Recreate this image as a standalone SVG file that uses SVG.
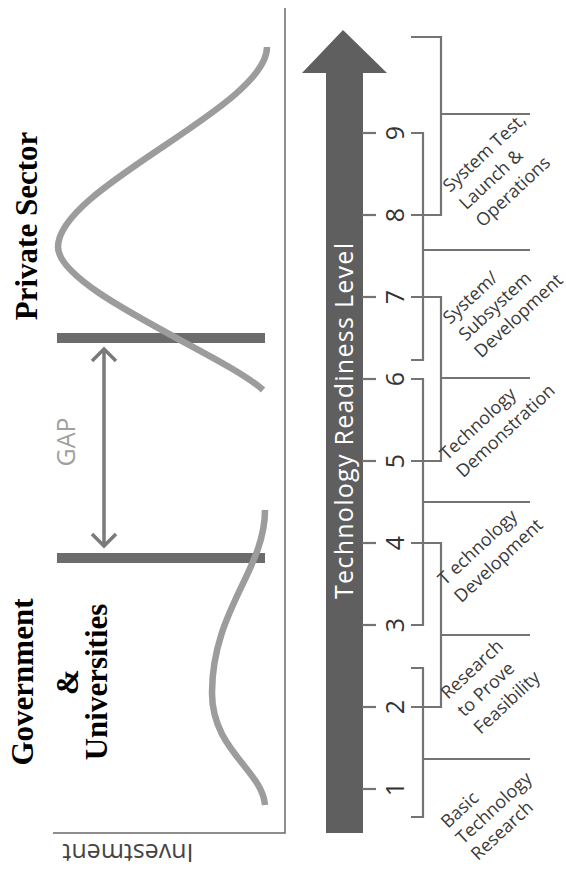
<svg xmlns="http://www.w3.org/2000/svg" width="566" height="870" viewBox="0 0 566 870">
<style>
.axis{stroke:#6a6a6a;stroke-width:1.5;fill:none}
.curve{stroke:#9c9c9c;stroke-width:6.5;fill:none;stroke-linecap:butt}
.bar{fill:#6c6c6c}
.gap{stroke:#7a7a7a;stroke-width:3.5;fill:none;stroke-linejoin:miter}
.br{stroke:#747474;stroke-width:2.2;fill:none}
.tick{stroke:#747474;stroke-width:2.2}
.num{font-family:"Open Sans",sans-serif;font-size:25px;fill:#333;text-anchor:middle}
.stage{font-family:"Open Sans",sans-serif;font-size:18px;fill:#3a3a3a}
.big{font-family:"Liberation Serif","Times New Roman",serif;font-weight:bold;font-size:31px;fill:#000;text-anchor:middle}
</style>
<rect width="566" height="870" fill="#fff"/>
<g id="axes">
<path class="axis" d="M285,8 V833 H53"/>
<text x="0" y="0" transform="translate(128,844) rotate(180)" font-family="Open Sans, sans-serif" font-size="25" fill="#444" text-anchor="middle">Investment</text>
</g>
<g id="bars">
<rect class="bar" x="57" y="333" width="208" height="10"/>
<rect class="bar" x="57" y="553" width="208" height="10"/>
</g>
<g id="curves">
<path class="curve" d="M267,47 C267,107 58,187 58,247 C58,290 225,355 263,390"/>
<path class="curve" d="M265,510 C265,570 212,610 212,693 C212,750 262,770 265,805"/>
</g>
<g id="gap">
<path class="gap" d="M104,349 V546 M92,361 L104,349 L116,361 M92,534 L104,546 L116,534"/>
<text transform="translate(75,442) rotate(-90)" font-family="Open Sans, sans-serif" font-size="25" fill="#a0a0a0" text-anchor="middle">GAP</text>
</g>
<g id="private-sector">
<text class="big" transform="translate(37,226) rotate(-90)">Private Sector</text>
</g>
<g id="government-universities">
<text class="big" transform="rotate(-90)"><tspan x="-682" y="33">Government</tspan><tspan x="-682" y="78">&amp;</tspan><tspan x="-682" y="107">Universities</tspan></text>
</g>
<g id="trl-arrow">
<polygon points="343,30 387,73 363,73 363,833 326,833 326,73 302,73" fill="#5f5f5f"/>
<text transform="translate(353,421) rotate(-90)" font-family="Open Sans, sans-serif" font-size="25" fill="#fff" text-anchor="middle" textLength="356" lengthAdjust="spacing">Technology Readiness Level</text>
</g>
<g id="levels">
<g class="tick">
<line x1="362" y1="789" x2="376" y2="789"/><line x1="362" y1="707" x2="376" y2="707"/><line x1="362" y1="625" x2="376" y2="625"/><line x1="362" y1="543" x2="376" y2="543"/><line x1="362" y1="461" x2="376" y2="461"/><line x1="362" y1="379" x2="376" y2="379"/><line x1="362" y1="297" x2="376" y2="297"/><line x1="362" y1="215" x2="376" y2="215"/><line x1="362" y1="133" x2="376" y2="133"/>
</g>
<text class="num" transform="translate(404,789) rotate(-90)">1</text>
<text class="num" transform="translate(404,707) rotate(-90)">2</text>
<text class="num" transform="translate(404,625) rotate(-90)">3</text>
<text class="num" transform="translate(404,543) rotate(-90)">4</text>
<text class="num" transform="translate(404,461) rotate(-90)">5</text>
<text class="num" transform="translate(404,379) rotate(-90)">6</text>
<text class="num" transform="translate(404,297) rotate(-90)">7</text>
<text class="num" transform="translate(404,215) rotate(-90)">8</text>
<text class="num" transform="translate(404,133) rotate(-90)">9</text>
</g>
<g id="connectors">
<path class="br" d="M411,37 H441 V215 H411 M441,114 H530"/>
<path class="br" d="M411,133 H423 V360 H411 M423,250 H530"/>
<path class="br" d="M411,297 H441 V461 H411 M441,378 H530"/>
<path class="br" d="M411,379 H423 V625 H411 M423,502 H530"/>
<path class="br" d="M411,543 H441 V707 H411 M441,635 H530"/>
<path class="br" d="M411,668 H423 V817 H411 M423,759 H530"/>
</g>
<g id="stage-system-test">
<text class="stage" transform="translate(450,193) rotate(-43)"><tspan x="0" y="0">System Test,</tspan><tspan x="0" y="24">Launch &amp;</tspan><tspan x="0" y="48">Operations</tspan></text>
</g>
<g id="stage-system-dev">
<text class="stage" font-size="17" transform="translate(450,325) rotate(-43)"><tspan x="0" y="0">System/</tspan><tspan x="0" y="23">Subsystem</tspan><tspan x="0" y="46">Development</tspan></text>
</g>
<g id="stage-tech-demo">
<text class="stage" transform="translate(447,461) rotate(-43)"><tspan x="0" y="0">Technology</tspan><tspan x="0" y="24">Demonstration</tspan></text>
</g>
<g id="stage-tech-dev">
<text class="stage" transform="translate(445,586) rotate(-43)"><tspan x="0" y="0">T echnology</tspan><tspan x="0" y="24">Development</tspan></text>
</g>
<g id="stage-research">
<text class="stage" transform="translate(448,700) rotate(-43)"><tspan x="0" y="0">Research</tspan><tspan x="0" y="24">to Prove</tspan><tspan x="0" y="48">Feasibility</tspan></text>
</g>
<g id="stage-basic">
<text class="stage" transform="translate(448,829) rotate(-43)"><tspan x="0" y="0">Basic</tspan><tspan x="0" y="22">Technology</tspan><tspan x="0" y="44">Research</tspan></text>
</g>
</svg>
